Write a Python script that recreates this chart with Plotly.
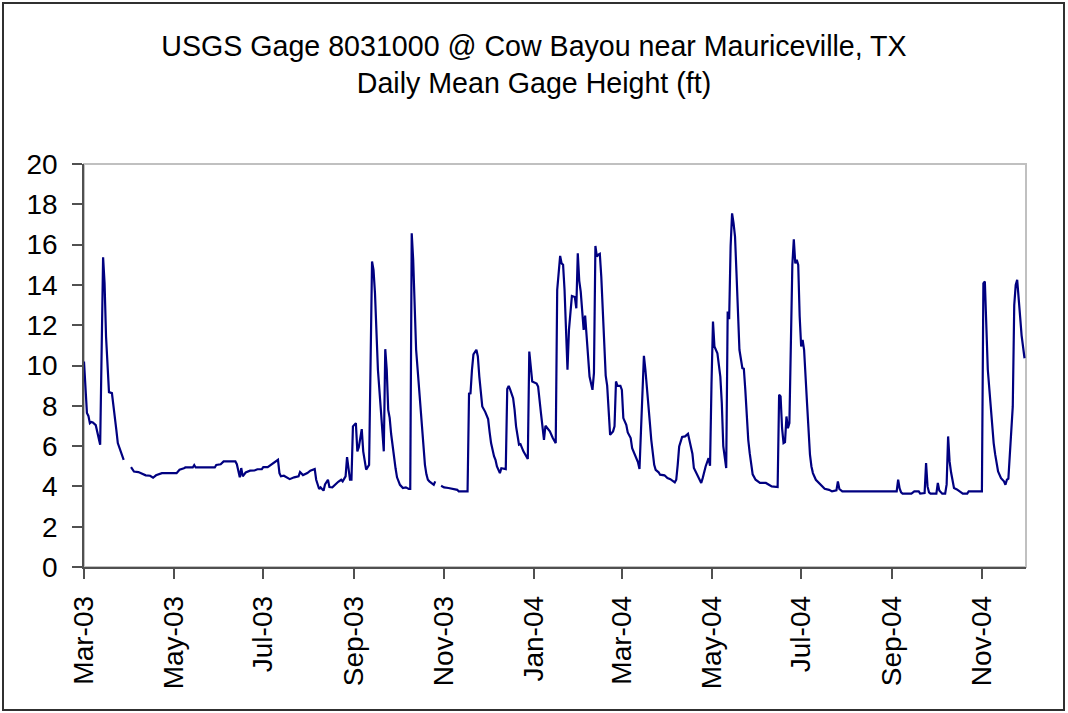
import pandas as pd
import plotly.graph_objects as go

# ---- data ----
start_date = "2003-03-01"
# day offsets from start_date, and daily mean gage height (ft); None = missing data
day_offset = [
    0, 2, 3, 4, 5, 6, 8, 9, 10, 11, 13, 14, 15, 16, 17, 19, 20, 21, 22, 23, 25, 27, 30,
    32, 34, 37, 39, 42, 45, 47, 49, 53, 63, 65, 68, 69, 74, 75, 76, 89, 90, 93, 95, 103,
    104, 106, 107, 108, 110, 113, 116, 118, 121, 122, 125, 128, 130, 132, 133, 134, 136,
    138, 140, 143, 146, 147, 149, 152, 154, 157, 158, 160, 161, 163, 164, 166, 167, 169,
    171, 173, 175, 176, 178, 179, 181, 182, 183, 185, 186, 187, 189, 190, 192, 194, 196,
    197, 198, 200, 202, 204, 205, 206, 207, 208, 209, 210, 211, 212, 213, 215, 217, 219,
    221, 222, 223, 224, 226, 228, 230, 231, 232, 233, 234, 235, 238, 239, 241,
    243, 245, 248, 251, 254, 255, 261, 262, 263, 264, 265, 267, 268, 269, 271, 273, 275,
    276, 277, 279, 280, 281, 283, 284, 287, 288, 289, 290, 292, 293, 294, 296, 297, 299,
    302, 303, 304, 305, 308, 309, 311, 313, 314, 317, 319, 321, 322, 324, 325, 326, 327,
    328, 329, 330, 331, 332, 334, 335, 336, 337, 338, 339, 340, 341, 342, 343, 344, 346,
    347, 348, 349, 350, 351, 352, 353, 354, 355, 356, 357, 358, 360, 361, 362, 363, 365,
    366, 367, 369, 370, 372, 373, 375, 377, 378, 381, 382, 384, 385, 386, 387, 388, 389,
    391, 392, 395, 397, 399, 402, 403, 404, 405, 407, 409, 411, 412, 414, 415, 417, 419,
    420, 421, 423, 425, 426, 427, 428, 429, 431, 433, 434, 435, 436, 437, 438, 439, 440,
    441, 442, 443, 444, 445, 446, 448, 449, 450, 451, 452, 453, 454, 455, 457, 459, 460,
    464, 466, 468, 472, 473, 474, 475, 476, 477, 478, 479, 480, 481, 482, 483, 484, 485,
    486, 487, 488, 489, 490, 492, 494, 495, 496, 498, 500, 502, 504, 507, 509, 512, 513,
    514, 516, 553, 554, 555, 556, 557, 563, 565, 568, 569, 572, 573, 574, 575, 576, 580,
    581, 582, 583, 584, 586, 587, 588, 589, 590, 591, 592, 594, 596, 598, 601, 602, 611,
    612, 613, 614, 615, 617, 618, 619, 620, 621, 622, 624, 626, 627, 628, 629, 630, 632,
    633, 634, 635, 636, 637, 638, 639, 640,
]
gage_height_ft = [
    10.2, 7.64, 7.5, 7.14, 7.2, 7.17, 7.04, 6.73, 6.5, 6.07, 15.37, 14.08, 11.44, 9.9, 8.68,
    8.63, 8.1, 7.47, 6.8, 6.15, 5.74, 5.32, None,
    4.96, 4.74, 4.71, 4.63, 4.55, 4.53, 4.43, 4.55, 4.66, 4.66, 4.83, 4.9, 4.94, 4.94, 5.06,
    4.94, 4.94, 5.06, 5.1, 5.24, 5.24,
    5.1, 4.45, 4.91, 4.5, 4.69, 4.78, 4.79, 4.85, 4.86, 4.96, 4.96, 5.11, 5.2, 5.32, 4.66,
    4.5, 4.53, 4.45, 4.36, 4.45, 4.5, 4.71, 4.56, 4.66, 4.78, 4.86, 4.33, 3.87, 3.95, 3.79,
    4.1, 4.33, 3.97, 3.95, 4.1, 4.23, 4.33, 4.25, 4.5, 5.45, 4.33, 4.33, 6.98, 7.14, 5.74,
    5.95, 6.84, 5.74, 4.83, 5.07, 15.16, 14.74, 13.59, 9.79, 7.8, 5.74, 10.81, 9.8, 7.8,
    7.4, 6.6, 6.0, 5.3, 4.9, 4.45, 4.08, 3.92, 3.95, 3.87, 3.87, 16.56, 15.24, 10.78, 8.79,
    6.98, 5.8, 5.07, 4.6, 4.33, 4.25, 4.08, 4.25, None,
    4.03, 3.95, 3.92, 3.87, 3.83, 3.75, 3.75, 8.6, 8.62, 9.79, 10.55, 10.78, 10.45, 9.45,
    7.97, 7.7, 7.34, 6.7, 6.15, 5.5, 5.32, 4.99, 4.66, 4.9, 4.86, 8.83, 8.99, 8.8, 8.38,
    7.8, 6.98, 6.07, 6.1, 5.74, 5.36, 10.69, 10.0, 9.21, 9.1, 8.96, 7.6, 6.31, 7.01, 6.73,
    6.4, 6.15, 13.75, 15.44, 15.07, 15.0, 13.75, 11.44, 9.79, 11.77, 12.6, 13.45, 13.4,
    12.84, 15.57, 14.2, 13.67, 12.76, 11.77, 12.48, 11.44, 10.28, 9.45, 8.79, 9.62, 15.93,
    15.4, 15.5, 15.54, 14.4, 12.76, 10.78, 9.5, 9.0, 7.97, 6.56, 6.73, 6.98, 9.21, 8.99,
    8.99, 8.79, 7.39, 7.06, 6.68, 6.4, 5.9, 5.5, 5.19, 4.86, 10.48, 9.8, 8.3, 7.2, 6.31,
    5.65, 5.07, 4.82, 4.7, 4.58, 4.55, 4.41, 4.36, 4.2, 4.33, 5.07, 5.98, 6.45, 6.48, 6.61,
    6.23, 5.62, 4.91, 4.58, 4.33, 4.17, 4.41, 4.99, 5.4, 5.02, 9.12, 12.18, 10.94, 10.61,
    9.45, 8.13, 6.0, 5.4, 4.91, 12.68, 12.3, 15.9, 17.55, 17.06, 16.4, 14.58, 12.1, 10.78,
    9.87, 9.84, 8.79, 7.5, 6.31, 5.65, 5.07, 4.6, 4.33, 4.25, 4.17, 4.17, 4.08, 4.0, 3.97,
    8.55, 8.46, 6.9, 6.15, 6.2, 7.47, 6.89, 7.14, 11.93, 14.99, 16.26, 15.07, 15.24, 14.99,
    12.43, 10.94, 11.27, 10.78, 8.13, 5.57, 4.99, 4.66, 4.33, 4.17, 4.0, 3.88, 3.83, 3.75,
    3.8, 4.25, 3.87, 3.75, 3.75, 4.33, 3.9, 3.7, 3.64, 3.64, 3.75, 3.75, 3.64, 3.67, 5.16,
    4.0, 3.7, 3.64, 3.64, 4.17, 3.8, 3.7, 3.64, 3.64, 4.1, 6.48, 5.24, 4.7, 4.2, 3.92,
    3.85, 3.75, 3.64, 3.64, 3.75, 3.75, 14.08, 14.17, 12.0, 9.8, 7.97, 7.0, 6.15, 5.6, 5.25,
    4.74, 4.41, 4.25, 4.08, 4.33, 4.38, 5.65, 7.97, 13.0, 14.0, 14.25, 13.5, 12.43, 11.5,
    10.8, 10.36,
]

tick_dates = ["2003-03-01", "2003-05-01", "2003-07-01", "2003-09-01", "2003-11-01",
              "2004-01-01", "2004-03-01", "2004-05-01", "2004-07-01", "2004-09-01",
              "2004-11-01"]
tick_labels = ["Mar-03", "May-03", "Jul-03", "Sep-03", "Nov-03", "Jan-04", "Mar-04",
               "May-04", "Jul-04", "Sep-04", "Nov-04"]
y_ticks = [0, 2, 4, 6, 8, 10, 12, 14, 16, 18, 20]
x_range = ["2003-03-01", "2004-12-01"]

title_text = ("USGS Gage 8031000 @ Cow Bayou near Mauriceville, TX<br>"
              "Daily Mean Gage Height (ft)")

dates = pd.Timestamp(start_date) + pd.to_timedelta(day_offset, unit="D")

FONT = "Liberation Sans, Arial, sans-serif"

fig = go.Figure()
fig.add_trace(go.Scatter(
    x=dates, y=gage_height_ft, mode="lines",
    line=dict(color="#000080", width=2.2),
    connectgaps=False, showlegend=False, hoverinfo="x+y",
))

W, H = 1068, 713
ml, mr, mt, mb = 84, 42, 164, 146
pw, ph = W - ml - mr, H - mt - mb

def px_to_paper_x(px):
    return (px - ml) / pw

def px_to_paper_y(py):
    return (H - mb - py) / ph

fig.update_layout(
    width=W, height=H,
    margin=dict(l=ml, r=mr, t=mt, b=mb, pad=0),
    paper_bgcolor="white", plot_bgcolor="white",
    font=dict(family=FONT, color="black", size=28),
    title=dict(text=title_text, x=0.5, xref="container", xanchor="center",
               y=1 - 56 / H, yref="container", yanchor="top",
               font=dict(family=FONT, size=28.6, color="black")),
    xaxis=dict(type="date", range=x_range, tickmode="array",
               tickvals=tick_dates, ticktext=tick_labels, tickangle=-90,
               showgrid=False, zeroline=False, showline=True,
               linecolor="#505050", linewidth=1.5, ticks="outside", ticklen=10,
               tickcolor="#505050", tickwidth=1.5, ticklabelstandoff=6,
               tickfont=dict(family=FONT, size=28, color="black")),
    yaxis=dict(range=[0, 20], tickmode="array", tickvals=y_ticks,
               showgrid=False, zeroline=False, showline=True,
               linecolor="#505050", linewidth=1.5, ticks="outside", ticklen=10,
               tickcolor="#505050", tickwidth=1.5, ticklabelstandoff=9,
               tickfont=dict(family=FONT, size=28, color="black")),
    shapes=[
        # plot-area frame (light grey top/right)
        dict(type="rect", xref="paper", yref="paper", x0=0, x1=1, y0=0, y1=1,
             line=dict(color="#c0c0c0", width=2), layer="below"),
        # outer chart border
        dict(type="rect", xref="paper", yref="paper",
             x0=px_to_paper_x(3), x1=px_to_paper_x(1064),
             y0=px_to_paper_y(710), y1=px_to_paper_y(3),
             line=dict(color="#303030", width=2)),
    ],
)

fig.write_html("out.html",
               config={"displayModeBar": False},
               post_script="document.body.style.margin='0';document.body.style.overflow='hidden';")
